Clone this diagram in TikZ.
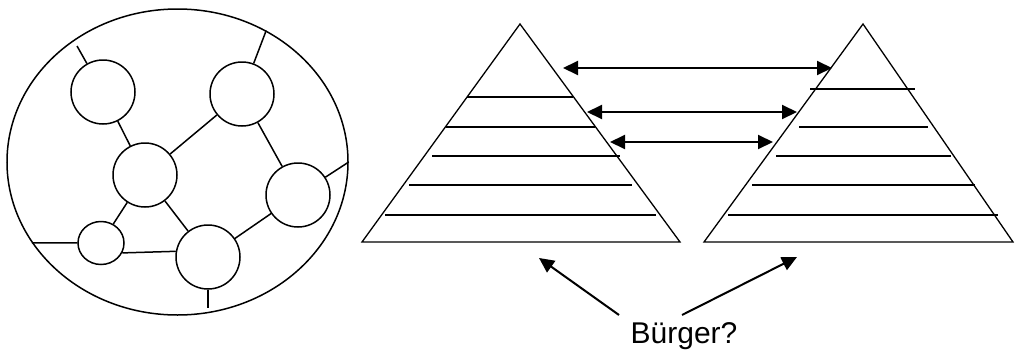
\documentclass[tikz,border=0pt]{standalone}
\usepackage{fontspec}
\setmainfont{Liberation Sans}
\usetikzlibrary{arrows.meta,shapes.geometric}
\begin{document}
\begin{tikzpicture}[x=1pt,y=-1pt,line width=1.5pt,
      k/.style={draw,circle,minimum size=64pt,inner sep=0pt},
      l/.style={line width=1.3pt},
      a/.style={{Triangle[length=15pt,width=14pt]}-{Triangle[length=15pt,width=14pt]},line width=2pt},
      p/.style={-{Triangle[length=15pt,width=14pt]},line width=2pt}]
  \useasboundingbox (0,0) rectangle (1015,359);
  \node[draw,ellipse,minimum width=341pt,minimum height=306pt,inner sep=0pt] (net) at (177.5,162) {};
  \node[k] (k1) at (103,92) {};
  \node[k] (k2) at (242,94) {};
  \node[k] (k3) at (145,175) {};
  \node[k] (k4) at (298,195) {};
  \node[draw,ellipse,minimum width=46pt,minimum height=43pt,inner sep=0pt] (k5) at (101,243) {};
  \node[k] (k6) at (208,257) {};
  \coordinate (s1) at (77,46);
  \coordinate (s6) at (208,308);
  \draw (k1) -- (s1);
  \draw (k2) -- (net.56);
  \draw (k1) -- (k3); \draw (k3) -- (k2);
  \draw (k2) -- (k4); \draw (k4) -- (net.0);
  \draw (k3) -- (k5); \draw (k3) -- (k6);
  \draw (k4) -- (k6); \draw (k5) -- (net.209.4);
  \draw (k5.-25) -- (k6.170); \draw (k6) -- (s6);
  \draw[l] (520,24) -- (680,242) -- (362,242) -- cycle;
  \foreach \y/\xl/\xr in {97/467/573,127/446/595,156/432/620,185/409/632,215/385/656}
    \draw[l] (\xl,\y) -- (\xr,\y);
  \draw[l] (863,24) -- (1013,242) -- (704,242) -- cycle;
  \foreach \y/\xl/\xr in {89/810/915,127/799/928,156/776/951,185/752/975,215/728/998}
    \draw[l] (\xl,\y) -- (\xr,\y);
  \coordinate (u1) at (563,68);  \coordinate (v1) at (832,68);
  \coordinate (u2) at (587,112); \coordinate (v2) at (797,112);
  \coordinate (u3) at (610,142); \coordinate (v3) at (773,142);
  \draw[a] (u1) -- (v1); \draw[a] (u2) -- (v2); \draw[a] (u3) -- (v3);
  \node[font=\fontsize{30}{36}\selectfont] (bg) at (684,336) {Bürger?};
  \coordinate (b1) at (619,315); \coordinate (t1) at (539,258);
  \coordinate (b2) at (682,315); \coordinate (t2) at (797,257);
  \draw[p] (b1) -- (t1); \draw[p] (b2) -- (t2);
\end{tikzpicture}
\end{document}
